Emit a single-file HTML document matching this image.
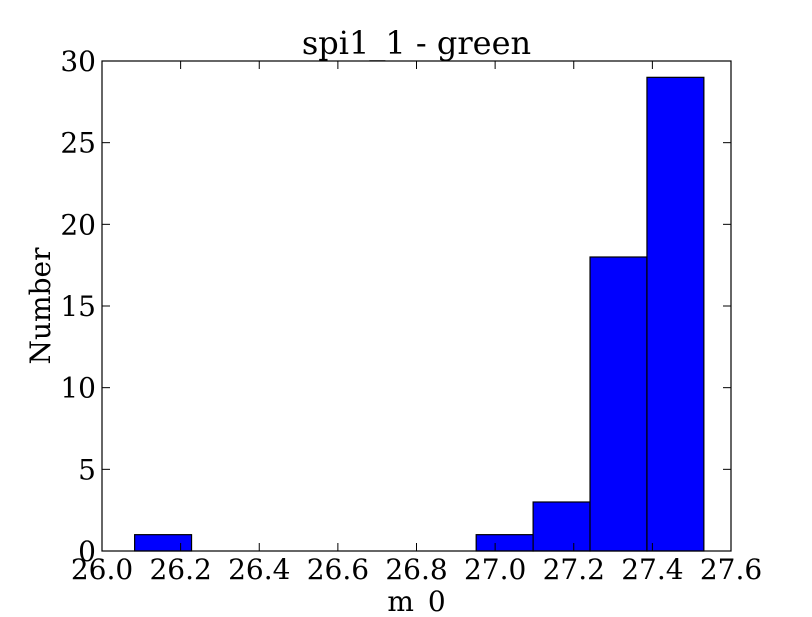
<!DOCTYPE html>
<html><head><meta charset="utf-8"><style>
body{margin:0;background:#fff;}
svg text{font-family:"DejaVu Serif","Liberation Serif",serif;fill:#000;}
</style></head><body>
<svg id="chart" width="812" height="612" viewBox="0 0 812 612" xmlns="http://www.w3.org/2000/svg">
<rect width="812" height="612" fill="#fff"/>
<g id="bars"></g>
<g id="axes"></g>
</svg>
<script>
const binStart = 26.083;
const binWidth = 0.1448;
const counts = [1,0,0,0,0,0,1,3,18,29];
const xTicks = [26.0,26.2,26.4,26.6,26.8,27.0,27.2,27.4,27.6];
const xTickLabels = ["26.0","26.2","26.4","26.6","26.8","27.0","27.2","27.4","27.6"];
const yTicks = [0,5,10,15,20,25,30];
const yTickLabels = ["0","5","10","15","20","25","30"];

const L=102,R=731,T=61,B=551;
const xs=v=>L+(v-26.0)/(27.6-26.0)*(R-L);
const ys=v=>B-v/30*(B-T);
const NS="http://www.w3.org/2000/svg";
function mk(tag,attrs,parent){const e=document.createElementNS(NS,tag);for(const k in attrs)e.setAttribute(k,attrs[k]);parent.appendChild(e);return e;}
const bars=document.getElementById('bars'), axes=document.getElementById('axes');
counts.forEach((c,i)=>{
  if(c<=0) return;
  const x0=xs(binStart+i*binWidth), x1=xs(binStart+(i+1)*binWidth);
  const r=mk('rect',{x:x0,y:ys(c),width:x1-x0,height:ys(0)-ys(c),fill:'#0000ff',stroke:'#000','stroke-width':1.2},bars);
  
  
});
const frame=mk('rect',{x:L,y:T,width:R-L,height:B-T,fill:'none',stroke:'#000','stroke-width':1.2},axes);


xTicks.forEach((v,i)=>{
  const x=xs(v);
  mk('line',{x1:x,x2:x,y1:B,y2:B-8,stroke:'#000'},axes);
  mk('line',{x1:x,x2:x,y1:T,y2:T+8,stroke:'#000'},axes);
  const t=mk('text',{x:x,y:B+28,'text-anchor':'middle','font-size':28},axes);
  t.textContent=xTickLabels[i];
  
  
});
yTicks.forEach((v,i)=>{
  const y=ys(v);
  mk('line',{x1:L,x2:L+8,y1:y,y2:y,stroke:'#000'},axes);
  mk('line',{x1:R,x2:R-8,y1:y,y2:y,stroke:'#000'},axes);
  const t=mk('text',{x:L-6,y:y+10,'text-anchor':'end','font-size':28},axes);
  t.textContent=yTickLabels[i];
  
  
});
const title=mk('text',{x:(L+R)/2,y:54,'text-anchor':'middle','font-size':32},axes);
title.textContent='spi1_1 - green';


const xl=mk('text',{x:(L+R)/2,y:611,'text-anchor':'middle','font-size':28},axes);
xl.textContent='m_0';


const yl=mk('text',{x:0,y:0,'text-anchor':'middle','font-size':28,transform:'translate(50,306) rotate(-90)'},axes);
yl.textContent='Number';


</script>
</body></html>
